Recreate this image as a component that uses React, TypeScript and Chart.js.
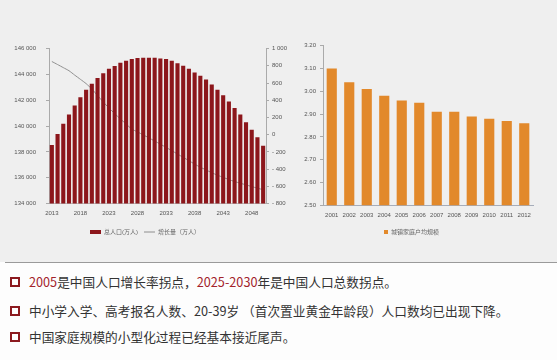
import React, { useEffect, useRef } from "react";
import { Chart, registerables } from "chart.js";

Chart.register(...registerables);

const popYears = [
  "2013", "2014", "2015", "2016", "2017", "2018", "2019", "2020", "2021", "2022",
  "2023", "2024", "2025", "2026", "2027", "2028", "2029", "2030", "2031", "2032",
  "2033", "2034", "2035", "2036", "2037", "2038", "2039", "2040", "2041", "2042",
  "2043", "2044", "2045", "2046", "2047", "2048", "2049", "2050",
];
const popYearLabels = ["2013", "2018", "2023", "2028", "2033", "2038", "2043", "2048"];
const totalPop = [
  138540, 139390, 140180, 140890, 141600, 142230, 142810, 143270, 143720, 144100,
  144430, 144660, 144910, 145060, 145190, 145270, 145290, 145300, 145290, 145240,
  145190, 145060, 144860, 144680, 144430, 144150, 143900, 143600, 143220, 142810,
  142380, 141900, 141390, 140890, 140300, 139720, 139140, 138480,
];
const popGrowth = [
  850, 815, 779, 743, 692, 643, 593, 530, 455, 380,
  310, 245, 183, 124, 65, 32, -3, -37, -74, -110,
  -148, -186, -225, -264, -302, -342, -378, -410, -442, -471,
  -496, -522, -545, -564, -584, -603, -622, -640,
];
const hhYears = ["2001", "2002", "2003", "2004", "2005", "2006", "2007", "2008", "2009", "2010", "2011", "2012"];
const hhSize = [3.10, 3.04, 3.01, 2.98, 2.96, 2.95, 2.91, 2.91, 2.89, 2.88, 2.87, 2.86];

const popLabel = "总人口(万人)";
const growthLabel = "增长量（万人）";
const hhLabel = "城镇家庭户均规模";

const tickFamily = "'Liberation Sans Narrow', 'Liberation Sans', 'Noto Sans CJK SC', sans-serif";
const tickFont = { size: 6, family: tickFamily };
const tickColor = "#555";
const axisColor = "#aaaaaa";

const spaced = (n: number) => String(Math.abs(n)).replace(/\B(?=(\d{3})+(?!\d))/g, " ");

function withStyles(chart: any, styles: string[]) {
  const items = Chart.defaults.plugins.legend.labels.generateLabels(chart);
  return items.map((it: any, i: number) => ({ ...it, pointStyle: styles[i] || "rect" }));
}

function PopChart() {
  const ref = useRef<HTMLCanvasElement | null>(null);
  useEffect(() => {
    if (!ref.current) return;
    const chart = new Chart(ref.current, {
      type: "bar",
      data: {
        labels: popYears,
        datasets: [
          {
            type: "bar",
            label: popLabel,
            data: totalPop,
            backgroundColor: "#8c161b",
            yAxisID: "y",
            barPercentage: 0.72,
            categoryPercentage: 1,
            order: 1,
          } as any,
          {
            type: "line",
            label: growthLabel,
            data: popGrowth,
            borderColor: "#8e8e8e",
            backgroundColor: "#8e8e8e",
            borderWidth: 1,
            pointRadius: 0,
            yAxisID: "y1",
            order: 2,
            tension: 0.2,
          } as any,
        ],
      },
      options: {
        animation: false,
        responsive: false,
        layout: { padding: { top: 10, left: 0, right: 0, bottom: 0 } },
        plugins: {
          tooltip: { enabled: false },
          legend: {
            position: "bottom",
            labels: {
              usePointStyle: true,
              pointStyleWidth: 11,
              boxHeight: 4,
              padding: 6,
              color: "#666",
              font: { size: 6, family: tickFamily },
              generateLabels: (c: any) => withStyles(c, ["rect", "line"]),
            },
          },
        },
        scales: {
          x: {
            grid: { display: false, drawTicks: false },
            border: { color: "#bbbbbb" },
            ticks: {
              autoSkip: false,
              maxRotation: 0,
              padding: 6,
              color: tickColor,
              font: tickFont,
              callback: (_v: any, i: number) => (popYearLabels.includes(popYears[i]) ? popYears[i] : ""),
            },
            afterFit: (s: any) => { s.height = 19.5; },
          },
          y: {
            position: "left",
            min: 134000,
            max: 146000,
            ticks: { stepSize: 2000, padding: 10, color: tickColor, font: tickFont, callback: (v: any) => spaced(Number(v)) },
            grid: { drawOnChartArea: false, tickLength: 3, color: axisColor },
            border: { color: axisColor },
            afterFit: (s: any) => { s.width = 49; },
          },
          y1: {
            position: "right",
            min: -800,
            max: 1000,
            ticks: {
              stepSize: 200, padding: 3, color: tickColor, font: tickFont,
              callback: (v: any) => (Number(v) < 0 ? "- " + spaced(Number(v)) : spaced(Number(v))),
            },
            grid: { drawOnChartArea: false, tickLength: 3, color: axisColor },
            border: { color: axisColor },
            afterFit: (s: any) => { s.width = 24; },
          },
        },
      } as any,
    });
    return () => chart.destroy();
  }, []);
  return <canvas ref={ref} width={290} height={210} style={{ position: "absolute", left: 0, top: 35 }} />;
}

function HouseholdChart() {
  const ref = useRef<HTMLCanvasElement | null>(null);
  useEffect(() => {
    if (!ref.current) return;
    const chart = new Chart(ref.current, {
      type: "bar",
      data: {
        labels: hhYears,
        datasets: [
          {
            label: hhLabel,
            data: hhSize,
            backgroundColor: "#e2892b",
            barPercentage: 0.58,
            categoryPercentage: 1,
          } as any,
        ],
      },
      options: {
        animation: false,
        responsive: false,
        layout: { padding: { top: 10.7, left: 0, right: 17, bottom: 0 } },
        plugins: {
          tooltip: { enabled: false },
          legend: {
            position: "bottom",
            labels: {
              usePointStyle: true,
              pointStyleWidth: 4,
              boxHeight: 4,
              padding: 6,
              color: "#666",
              font: { size: 6, family: tickFamily },
              generateLabels: (c: any) => withStyles(c, ["rect"]),
            },
          },
        },
        scales: {
          x: {
            grid: { display: false, drawTicks: false },
            border: { color: "#a6adba" },
            ticks: { maxRotation: 0, autoSkip: false, padding: 6, color: tickColor, font: tickFont },
            afterFit: (s: any) => { s.height = 17.7; },
          },
          y: {
            min: 2.5,
            max: 3.2,
            ticks: { stepSize: 0.1, padding: 4, color: tickColor, font: tickFont, callback: (v: any) => Number(v).toFixed(2) },
            grid: { drawOnChartArea: false, tickLength: 3, color: axisColor },
            border: { color: axisColor },
            afterFit: (s: any) => { s.width = 33; },
          },
        },
      } as any,
    });
    return () => chart.destroy();
  }, []);
  return <canvas ref={ref} width={260} height={210} style={{ position: "absolute", left: 290, top: 35 }} />;
}

const red = "#a3232b";
const textStyle: React.CSSProperties = {
  position: "absolute",
  left: 29,
  height: 20,
  lineHeight: "20px",
  fontFamily: "'Noto Sans CJK SC', sans-serif",
  fontSize: 12.7,
  color: "#333",
  whiteSpace: "nowrap",
};

function Bullet({ cy }: { cy: number }) {
  return (
    <div
      style={{
        position: "absolute",
        left: 10,
        top: cy - 5,
        width: 6,
        height: 6,
        border: "2px solid #8c1a1f",
        background: "#fff",
      }}
    />
  );
}

export default function App() {
  return (
    <div style={{ position: "fixed", left: 0, top: 0, width: 557, height: 360, background: "#fdfdfd", overflow: "hidden" }}>
      <div style={{ position: "absolute", left: 0, top: 0, width: 557, height: 262, background: "#efefef" }} />
      <div style={{ position: "absolute", left: 5, top: 262, width: 552, height: 1, background: "#9a9a9a" }} />
      <PopChart />
      <HouseholdChart />
      <Bullet cy={282} />
      <div style={{ ...textStyle, top: 272 }}>
        <span style={{ color: red }}>2005</span>是中国人口增长率拐点，<span style={{ color: red }}>2025-2030</span>年是中国人口总数拐点。
      </div>
      <Bullet cy={311} />
      <div style={{ ...textStyle, top: 301 }}>
        中小学入学、高考报名人数、20-39岁 （首次置业黄金年龄段）人口数均已出现下降。
      </div>
      <Bullet cy={337} />
      <div style={{ ...textStyle, top: 327 }}>中国家庭规模的小型化过程已经基本接近尾声。</div>
    </div>
  );
}
